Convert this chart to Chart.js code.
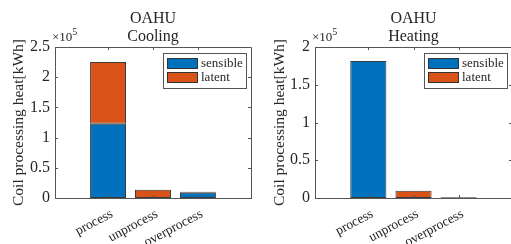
<!DOCTYPE html>
<html>
<head>
<meta charset="utf-8">
<script src="https://cdn.jsdelivr.net/npm/chart.js@4.4.0/dist/chart.umd.min.js"></script>
<style>
  html, body { margin: 0; padding: 0; background: #fff; overflow: hidden; width: 511px; height: 244px; }
  .wrap { position: absolute; top: 0; height: 244px; }
</style>
</head>
<body>
<div class="wrap" style="left:0;width:256px;"><canvas id="c1" width="256" height="244"></canvas></div>
<div class="wrap" style="left:256px;width:260px;"><canvas id="c2" width="260" height="244"></canvas></div>
<script>
// ---- data ----
const categories = ['process', 'unprocess', 'overprocess'];
const seriesNames = ['sensible', 'latent'];
const coolingSensible = [123000, null, 8800];
const coolingLatent = [102000, 13500, 1600];
const heatingSensible = [181500, null, 900];
const heatingLatent = [null, 9700, null];
const coolingTicks = [0, 0.5, 1, 1.5, 2, 2.5];   // in units of 10^5
const heatingTicks = [0, 0.5, 1, 1.5, 2];        // in units of 10^5
const titlesCooling = ['OAHU', 'Cooling'];
const titlesHeating = ['OAHU', 'Heating'];
const yTitle = 'Coil processing heat[kWh]';

const BLUE = '#0072BD';
const ORANGE = '#D95319';
const AXIS = '#555555';
const TEXT = '#262626';
const SERIF = '"Liberation Serif", "Times New Roman", serif';

const decorPlugin = {
  id: 'decor',
  afterDraw(chart, args, opts) {
    const ctx = chart.ctx;
    const a = chart.chartArea;
    const xs = chart.scales.x, ys = chart.scales.y;
    ctx.save();
    // frame
    ctx.strokeStyle = AXIS;
    ctx.lineWidth = 1;
    ctx.beginPath();
    ctx.rect(Math.round(a.left) + 0.5, Math.round(a.top) + 0.5, Math.round(a.right - a.left), Math.round(a.bottom - a.top));
    ctx.stroke();
    // inner ticks
    const tl = 3;
    ctx.beginPath();
    ys.ticks.forEach(t => {
      const y = Math.round(ys.getPixelForValue(t.value)) + 0.5;
      ctx.moveTo(a.left, y); ctx.lineTo(a.left + tl, y);
      ctx.moveTo(a.right, y); ctx.lineTo(a.right - tl, y);
    });
    xs.ticks.forEach(t => {
      const x = Math.round(xs.getPixelForValue(t.value)) + 0.5;
      ctx.moveTo(x, a.bottom); ctx.lineTo(x, a.bottom - tl);
      ctx.moveTo(x, a.top); ctx.lineTo(x, a.top + tl);
    });
    ctx.stroke();
    // title
    ctx.fillStyle = TEXT;
    ctx.textAlign = 'center';
    ctx.textBaseline = 'middle';
    ctx.font = '16px ' + SERIF;
    const cx = (a.left + a.right) / 2;
    opts.title.forEach((line, i) => ctx.fillText(line, cx, 19 + i * 18));
    // exponent label
    ctx.textAlign = 'left';
    ctx.textBaseline = 'alphabetic';
    ctx.font = '13px ' + SERIF;
    ctx.fillText('\u00d710', a.left - 3, a.top - 6);
    const w = ctx.measureText('\u00d710').width;
    ctx.font = '10px ' + SERIF;
    ctx.fillText('5', a.left - 3 + w, a.top - 12);
    // legend
    const lw = 83, lh = 35;
    const lx = a.right - lw - 5, ly = a.top + 6;
    ctx.fillStyle = '#fff';
    ctx.fillRect(lx, ly, lw, lh);
    ctx.strokeStyle = AXIS;
    ctx.strokeRect(Math.round(lx) + 0.5, Math.round(ly) + 0.5, lw, lh);
    chart.data.datasets.forEach((ds, i) => {
      const sy = ly + 5 + i * 14;
      ctx.fillStyle = ds.backgroundColor;
      ctx.fillRect(lx + 4, sy, 31, 11);
      ctx.strokeStyle = '#333';
      ctx.strokeRect(lx + 4.5, sy + 0.5, 30, 10);
      ctx.fillStyle = TEXT;
      ctx.font = '13px ' + SERIF;
      ctx.textBaseline = 'middle';
      ctx.fillText(ds.label, lx + 38, sy + 6);
    });
    ctx.restore();
  }
};

function makeChart(id, sens, lat, yticks, title, yAxisWidth, yTitlePad, rightPad) {
  const ymax = yticks[yticks.length - 1] * 1e5;
  return new Chart(document.getElementById(id), {
    type: 'bar',
    data: {
      datasets: [
        { label: seriesNames[0], data: categories.map((c, i) => ({ x: i + 1, y: sens[i] })),
          backgroundColor: BLUE, borderColor: '#3a3a3a', borderWidth: 1, borderSkipped: false,
          barPercentage: 0.8, categoryPercentage: 1 },
        { label: seriesNames[1], data: categories.map((c, i) => ({ x: i + 1, y: lat[i] })),
          backgroundColor: ORANGE, borderColor: '#3a3a3a', borderWidth: 1, borderSkipped: false,
          barPercentage: 0.8, categoryPercentage: 1 }
      ]
    },
    options: {
      responsive: false,
      animation: false,
      devicePixelRatio: 1,
      layout: { padding: { left: 0, right: rightPad, top: 47, bottom: 0 } },
      plugins: { legend: { display: false }, tooltip: { enabled: false }, title: { display: false },
        decor: { title: title } },
      scales: {
        x: {
          type: 'linear', stacked: true, min: -0.18, max: 4.18, offset: false,
          grid: { display: false, drawTicks: false },
          border: { display: true, color: AXIS },
          afterBuildTicks: s => { s.ticks = categories.map((c, i) => ({ value: i + 1 })); },
          afterFit: s => { s.height = 46; },
          ticks: { autoSkip: false, minRotation: 28, maxRotation: 28, padding: 8, labelOffset: 4,
            color: TEXT, font: { family: SERIF, size: 13.5 },
            callback: v => categories[Math.round(v) - 1] }
        },
        y: {
          stacked: true, min: 0, max: ymax,
          grid: { display: false, drawTicks: false },
          border: { display: true, color: AXIS },
          afterBuildTicks: s => { s.ticks = yticks.map(v => ({ value: v * 1e5 })); },
          afterFit: s => { s.width = yAxisWidth; },
          ticks: { padding: 5, color: TEXT, font: { family: SERIF, size: 16 },
            callback: v => String(Math.round(v / 1e4) / 10) },
          title: { display: true, text: yTitle, color: TEXT, font: { family: SERIF, size: 15.5 },
            padding: { top: yTitlePad, bottom: 0 } }
        }
      }
    },
    plugins: [decorPlugin]
  });
}

makeChart('c1', coolingSensible, coolingLatent, coolingTicks, titlesCooling, 55, 10, 5);
makeChart('c2', heatingSensible, heatingLatent, heatingTicks, titlesHeating, 59, 15, 4);
</script>
</body>
</html>
